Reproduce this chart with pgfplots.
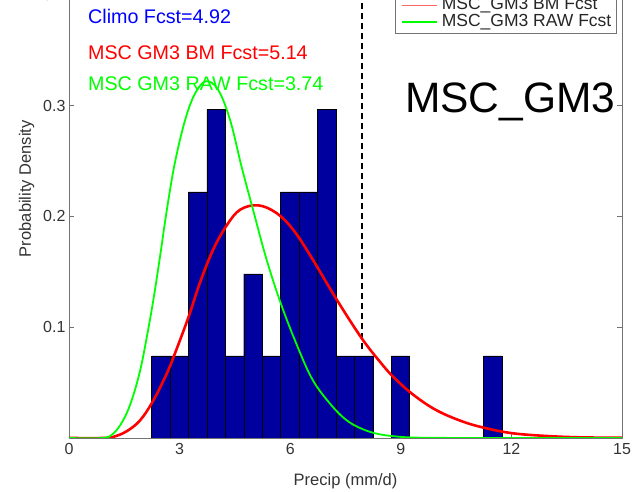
\documentclass[border=0pt]{standalone}
\usepackage{fontspec}
\setmainfont{Liberation Sans}
\usepackage{pgfplots}
\pgfplotsset{compat=1.18}

\definecolor{histblue}{rgb}{0,0,0.62}
\definecolor{axgray}{gray}{0.45}

\begin{document}
\begin{tikzpicture}
\path[use as bounding box] (-69pt,-54pt) rectangle (565pt,438pt);
\clip (-69pt,-54pt) rectangle (565pt,438pt);
\begin{pgfinterruptboundingbox}
\begin{axis}[
  at={(0pt,0pt)}, anchor=south west,
  scale only axis,
  width=553pt, height=498.6pt,
  xmin=0, xmax=15, ymin=0, ymax=0.45,
  xtick={0,3,6,9,12,15},
  ytick={0.1,0.2,0.3,0.4},
  yticklabel style={/pgf/number format/fixed},
  xticklabel style={yshift=-2pt},
  /pgf/number format/assume math mode=true,
  tick align=inside,
  major tick length=5pt,
  axis line style={axgray, line width=0.8pt},
  every tick/.style={axgray, line width=0.8pt},
  tick label style={font=\fontsize{16}{18}\selectfont, text=black!80},
  label style={font=\fontsize{16.5}{19}\selectfont, text=black!80},
  xlabel={Precip (mm/d)},
  ylabel={Probability Density},
  xlabel style={yshift=-12pt},
  ylabel style={yshift=2pt},
]
% observed histogram (bins of 0.5 mm/d)
\addplot[ybar, bar width=0.5, bar shift=0pt, fill=histblue, draw=black, line width=0.4pt]
  coordinates {
  (2.49,0.0741) (2.99,0.0741) (3.49,0.2222) (3.99,0.2963) (4.49,0.0741)
  (4.99,0.1481) (5.49,0.0741) (5.99,0.2222) (6.49,0.2222) (6.99,0.2963)
  (7.49,0.0741) (7.99,0.0741) (8.99,0.0741) (11.49,0.0741)
  };
% observed value
\addplot[black, line width=1.6pt, dash pattern=on 6pt off 4pt]
  coordinates {(7.95,0.08) (7.95,0.45)};
% bias-corrected forecast pdf
\addplot[red, line width=2.6pt, smooth, tension=0.6] coordinates {
  (0,0) (0.93,0) (1.2,0.001) (1.56,0.006) (1.93,0.016) (2.29,0.034)
  (2.65,0.058) (2.87,0.076) (3.24,0.109) (3.55,0.140) (3.91,0.170)
  (4.28,0.192) (4.64,0.206) (5.13,0.210) (5.63,0.203) (6.08,0.188)
  (6.54,0.165) (7.26,0.125) (7.94,0.090) (8.43,0.069) (8.80,0.055)
  (9.34,0.039) (9.97,0.025) (10.69,0.0147) (11.33,0.0087) (12.05,0.0042)
  (12.96,0.0018) (13.86,0.0006) (15,0.0002)
};
% raw forecast pdf
\addplot[green, line width=1.8pt, smooth, tension=0.6] coordinates {
  (0,0) (0.9,0) (1.2,0.004) (1.47,0.016) (1.7,0.034) (1.93,0.061)
  (2.11,0.091) (2.29,0.125) (2.47,0.164) (2.65,0.205) (2.87,0.248)
  (3.15,0.287) (3.42,0.311) (3.72,0.322) (4.05,0.314) (4.37,0.287)
  (4.68,0.245) (5.0,0.205) (5.36,0.161) (5.75,0.121) (6.18,0.084)
  (6.6,0.053) (7.08,0.031) (7.53,0.016) (7.98,0.0078) (8.43,0.0033)
  (9.0,0.001) (9.5,0.0003) (10,0.0001) (15,0)
};
% legend box
\draw[axgray, line width=0.8pt, fill=white]
  (axis cs:8.842,0.3655) rectangle (axis cs:14.836,0.422);
\draw[histblue, line width=1.5pt] (axis cs:9.032,0.410) -- (axis cs:9.981,0.410);
\node[anchor=west, inner sep=0pt, font=\fontsize{17.5}{19}\selectfont, text=black!85]
  at (axis cs:10.108,0.410) {Climo Fcst};
\draw[red!60, line width=1.5pt] (axis cs:9.032,0.3905) -- (axis cs:9.981,0.3905);
\node[anchor=west, inner sep=0pt, font=\fontsize{17.5}{19}\selectfont, text=black!85]
  at (axis cs:10.108,0.3905) {MSC\_GM3 BM Fcst};
\draw[green, line width=1.5pt] (axis cs:9.032,0.3755) -- (axis cs:9.981,0.3755);
\node[anchor=west, inner sep=0pt, font=\fontsize{17.5}{19}\selectfont, text=black!85]
  at (axis cs:10.108,0.3755) {MSC\_GM3 RAW Fcst};
% forecast values
\node[anchor=west, inner sep=0pt, blue, font=\fontsize{19.7}{22}\selectfont]
  at (axis cs:0.515,0.380) {Climo Fcst=4.92};
\node[anchor=west, inner sep=0pt, red, font=\fontsize{19.7}{22}\selectfont]
  at (axis cs:0.515,0.348) {MSC GM3 BM Fcst=5.14};
\node[anchor=west, inner sep=0pt, green, font=\fontsize{19.7}{22}\selectfont]
  at (axis cs:0.515,0.320) {MSC GM3 RAW Fcst=3.74};
\node[anchor=base west, inner sep=0pt, black, font=\fontsize{42.5}{48}\selectfont]
  at (axis cs:9.11,0.294) {MSC\_GM3};
\end{axis}
\end{pgfinterruptboundingbox}
\end{tikzpicture}
\end{document}
